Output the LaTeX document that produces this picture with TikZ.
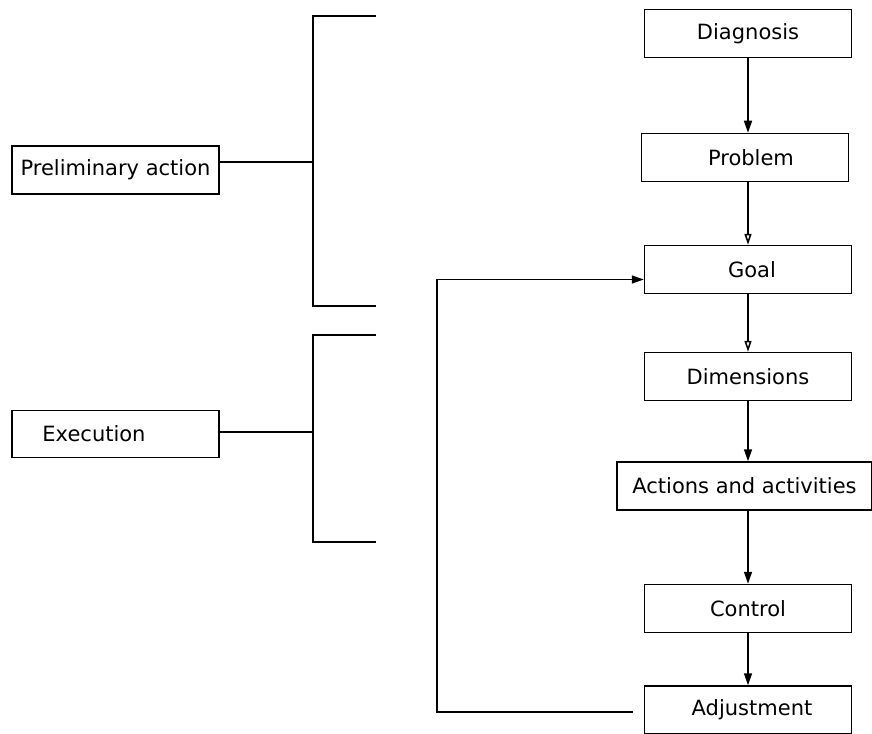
\documentclass[tikz,border=0pt]{standalone}
\usepackage{fontspec}
\setmainfont{DejaVu Sans}
\usepackage{tikz}
\usetikzlibrary{positioning,arrows.meta}

\begin{document}
\begin{tikzpicture}[x=1pt, y=-1pt, line width=1.5pt,
		font=\fontsize{21}{25}\selectfont,
		box/.style = {draw, rectangle, minimum width=207pt, minimum height=48pt, inner sep=0pt},
		wide/.style = {box, minimum width=255pt},
		arr/.style = {-{Triangle[length=12pt, width=8pt]}},
		oarr/.style = {-{Triangle[open, length=11pt, width=7pt]}}]
		\useasboundingbox (0,0) rectangle (872,733);
		
		% main chain
		\node[box] (diag) at (748,33.5) {Diagnosis};
		\node[box] (prob) [below=74.5pt of diag, xshift=-3pt] {\hspace*{12pt}Problem};
		\node[box] (goal) [below=62.5pt of prob, xshift=3pt] {\hspace*{8pt}Goal};
		\node[box] (dim) [below=57.5pt of goal] {Dimensions};
		\node[wide] (act) [below=60pt of dim, xshift=-3.5pt] {Actions and activities};
		\node[box] (ctrl) [below=73pt of act, xshift=3.5pt] {Control};
		\node[box] (adj) [below=52pt of ctrl] {\hspace*{8pt}Adjustment};
		
		% stages on the left
		\node[box] (pre) at (115.5,170) {Preliminary action};
		\node[box, minimum height=47pt] (exe) at (115.5,434) {Execution\hspace*{43pt}};
		
		\draw[arr] (diag.south) -- (diag.south |- prob.north);
		\draw[oarr] (diag.south |- prob.south) -- (goal.north);
		\draw[oarr] (goal.south) -- (dim.north);
		\draw[arr] (dim.south) -- (dim.south |- act.north);
		\draw[arr] (dim.south |- act.south) -- (ctrl.north);
		\draw[arr] (ctrl.south) -- (adj.north);
		\draw[arr, shorten <=11pt] ([yshift=-2pt]adj.west) -- ++(-207,0) |- ([yshift=-10pt]goal.west);
		
		% brackets
		\draw (376,16) -- (313,16) -- (313,306) -- (376,306);
		\draw (pre.east |- 0,162) -- (313,162);
		\draw (376,335) -- (313,335) -- (313,542) -- (376,542);
		\draw (exe.east |- 0,432) -- (313,432);
	\end{tikzpicture}
\end{document}
